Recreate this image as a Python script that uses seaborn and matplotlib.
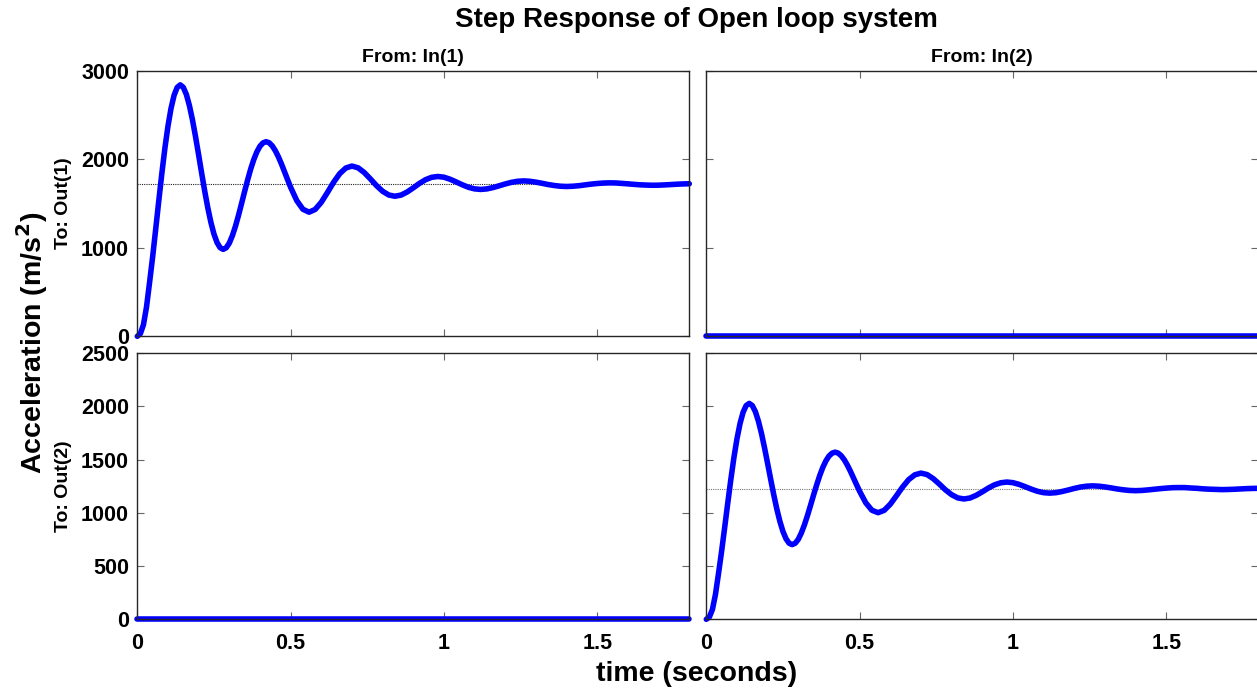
import matplotlib
matplotlib.use("Agg")
import matplotlib.pyplot as plt
import seaborn as sns
import pandas as pd

# Sample times (s): 0.01 s steps up to 0.5 s, then 0.02 s steps
time_s = [
    0.00, 0.01, 0.02, 0.03, 0.04, 0.05, 0.06, 0.07, 0.08, 0.09,
    0.10, 0.11, 0.12, 0.13, 0.14, 0.15, 0.16, 0.17, 0.18, 0.19,
    0.20, 0.21, 0.22, 0.23, 0.24, 0.25, 0.26, 0.27, 0.28, 0.29,
    0.30, 0.31, 0.32, 0.33, 0.34, 0.35, 0.36, 0.37, 0.38, 0.39,
    0.40, 0.41, 0.42, 0.43, 0.44, 0.45, 0.46, 0.47, 0.48, 0.49,
    0.50, 0.52, 0.54, 0.56, 0.58, 0.60, 0.62, 0.64, 0.66, 0.68,
    0.70, 0.72, 0.74, 0.76, 0.78, 0.80, 0.82, 0.84, 0.86, 0.88,
    0.90, 0.92, 0.94, 0.96, 0.98, 1.00, 1.02, 1.04, 1.06, 1.08,
    1.10, 1.12, 1.14, 1.16, 1.18, 1.20, 1.22, 1.24, 1.26, 1.28,
    1.30, 1.32, 1.34, 1.36, 1.38, 1.40, 1.42, 1.44, 1.46, 1.48,
    1.50, 1.52, 1.54, 1.56, 1.58, 1.60, 1.62, 1.64, 1.66, 1.68,
    1.70, 1.72, 1.74, 1.76, 1.78, 1.80,
]

# In(1) -> Out(1) acceleration response (m/s^2)
out1_in1 = [
    0, 30, 130, 330, 608, 897, 1210, 1529, 1839, 2125,
    2374, 2575, 2723, 2811, 2840, 2812, 2732, 2605, 2443, 2253,
    2049, 1840, 1637, 1450, 1287, 1155, 1059, 1001, 982, 1000,
    1053, 1136, 1242, 1366, 1500, 1637, 1769, 1892, 1998, 2084,
    2147, 2185, 2198, 2186, 2151, 2097, 2028, 1947, 1859, 1770,
    1683, 1533, 1435, 1402, 1433, 1514, 1624, 1739, 1837, 1901,
    1923, 1903, 1850, 1778, 1702, 1638, 1596, 1582, 1595, 1630,
    1677, 1727, 1769, 1796, 1805, 1797, 1774, 1743, 1711, 1683,
    1665, 1659, 1665, 1680, 1700, 1721, 1739, 1751, 1755, 1751,
    1741, 1728, 1714, 1703, 1695, 1692, 1695, 1701, 1710, 1719,
    1726, 1731, 1733, 1732, 1727, 1722, 1716, 1711, 1708, 1706,
    1707, 1710, 1714, 1718, 1721, 1723,
]

# In(2) -> Out(2) acceleration response (m/s^2)
out2_in2 = [
    0, 21, 93, 236, 434, 641, 865, 1093, 1314, 1519,
    1696, 1840, 1946, 2009, 2029, 2009, 1952, 1862, 1746, 1610,
    1464, 1315, 1170, 1036, 920, 825, 757, 715, 702, 715,
    752, 812, 888, 976, 1072, 1170, 1264, 1352, 1428, 1489,
    1534, 1561, 1571, 1562, 1537, 1499, 1449, 1391, 1328, 1265,
    1203, 1095, 1025, 1002, 1024, 1082, 1161, 1243, 1313, 1358,
    1374, 1360, 1322, 1271, 1216, 1171, 1141, 1131, 1140, 1165,
    1198, 1234, 1264, 1283, 1290, 1284, 1268, 1246, 1223, 1203,
    1190, 1186, 1190, 1201, 1215, 1230, 1243, 1251, 1254, 1251,
    1244, 1235, 1225, 1217, 1211, 1209, 1211, 1216, 1222, 1228,
    1233, 1237, 1238, 1238, 1234, 1231, 1226, 1223, 1221, 1219,
    1220, 1222, 1225, 1228, 1230, 1231,
]

# Cross-coupled channels stay at zero
flat_time = [0.0, 1.8]
flat_zero = [0.0, 0.0]

# Steady-state levels
final_out1 = 1717
final_out2 = 1227

x_ticks = [0, 0.5, 1, 1.5]
x_tick_labels = ["0", "0.5", "1", "1.5"]
y_ticks_top = [0, 1000, 2000, 3000]
y_ticks_bottom = [0, 500, 1000, 1500, 2000, 2500]

sns.set_theme(style="white")
plt.rcParams["font.family"] = ["Liberation Sans", "DejaVu Sans"]
plt.rcParams["font.weight"] = "bold"
plt.rcParams["text.color"] = "black"
plt.rcParams["axes.labelcolor"] = "black"
plt.rcParams["xtick.color"] = "black"
plt.rcParams["ytick.color"] = "black"
plt.rcParams["mathtext.default"] = "bf"

W, H = 1257, 691
fig = plt.figure(figsize=(W / 100, H / 100), dpi=100)


def axes_at(left, top, right, bottom):
    return fig.add_axes([left / W, 1 - bottom / H, (right - left) / W, (bottom - top) / H])


ax_tl = axes_at(137.3, 70.7, 689.3, 336.3)
ax_tr = axes_at(706.3, 70.7, 1258.3, 336.3)
ax_bl = axes_at(137.3, 353.3, 689.3, 619.3)
ax_br = axes_at(706.3, 353.3, 1258.3, 619.3)

line_kw = dict(color="#0000ff", linewidth=4.0)

df1 = pd.DataFrame({"t": time_s, "y": out1_in1})
df2 = pd.DataFrame({"t": time_s, "y": out2_in2})
dfz = pd.DataFrame({"t": flat_time, "y": flat_zero})

sns.lineplot(data=df1, x="t", y="y", ax=ax_tl, **line_kw)
sns.lineplot(data=dfz, x="t", y="y", ax=ax_tr, **line_kw)
sns.lineplot(data=dfz, x="t", y="y", ax=ax_bl, **line_kw)
sns.lineplot(data=df2, x="t", y="y", ax=ax_br, **line_kw)

ax_tl.axhline(final_out1, color="#222222", linestyle=(0, (1, 1)), linewidth=0.8, zorder=1)
ax_br.axhline(final_out2, color="#777777", linestyle=(0, (1, 1)), linewidth=0.8, zorder=1)

for ax in (ax_tl, ax_tr, ax_bl, ax_br):
    for ln in ax.get_lines():
        ln.set_clip_on(False)
    ax.set_xlim(0, 1.8)
    ax.set_xticks(x_ticks)
    ax.set_xlabel("")
    ax.set_ylabel("")
    ax.tick_params(direction="in", length=5, width=0.8, color="#666666",
                   labelcolor="black",
                   top=True, right=True, bottom=True, left=True,
                   labelsize=15.5, pad=6)
    ax.tick_params(axis="x", pad=10)
    for s in ax.spines.values():
        s.set_color("#262626")
        s.set_linewidth(1.0)
    ax.grid(False)

for ax in (ax_tl, ax_tr):
    ax.set_ylim(0, 3000)
    ax.set_yticks(y_ticks_top)
    ax.tick_params(labelbottom=False)
for ax in (ax_bl, ax_br):
    ax.set_ylim(0, 2500)
    ax.set_yticks(y_ticks_bottom)
    ax.set_xticklabels(x_tick_labels)
for ax in (ax_tr, ax_br):
    ax.tick_params(labelleft=False)

for lab in ax_tl.get_yticklabels() + ax_bl.get_yticklabels() + ax_bl.get_xticklabels() + ax_br.get_xticklabels():
    lab.set_fontweight("bold")

fig.text(696 / W, 1 - 20 / H, "Step Response of Open loop system", ha="center", va="center",
         fontsize=20, fontweight="bold")
fig.text(413.3 / W, 1 - 57 / H, "From: In(1)", ha="center", va="center", fontsize=14, fontweight="bold")
fig.text(981.5 / W, 1 - 57 / H, "From: In(2)", ha="center", va="center", fontsize=14, fontweight="bold")
fig.text(63.5 / W, 1 - 203.5 / H, "To: Out(1)", ha="center", va="center", rotation=90,
         fontsize=14, fontweight="bold")
fig.text(63.5 / W, 1 - 486.3 / H, "To: Out(2)", ha="center", va="center", rotation=90,
         fontsize=14, fontweight="bold")
fig.text(32 / W, 1 - 343 / H, r"Acceleration (m/s$^{2}$)", ha="center", va="center", rotation=90,
         fontsize=20.5, fontweight="bold")
fig.text(697 / W, 1 - 674 / H, "time (seconds)", ha="center", va="center", fontsize=20.5, fontweight="bold")

fig.savefig("out.png", dpi=100)
